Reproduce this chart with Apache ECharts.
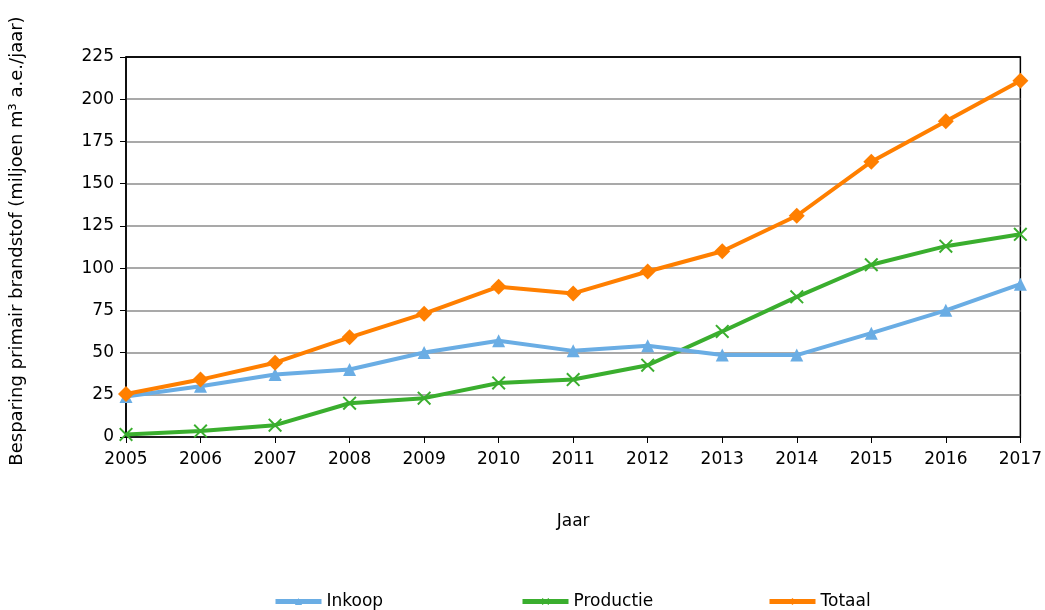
<!DOCTYPE html>
<html>
<head>
<meta charset="utf-8">
<script src="https://cdn.jsdelivr.net/npm/echarts@6/dist/echarts.min.js"></script>
<style>html,body{margin:0;padding:0;background:#fff}#c{width:1045px;height:610px}</style>
</head>
<body>
<div id="c"></div>
<script>
var years = ['2005','2006','2007','2008','2009','2010','2011','2012','2013','2014','2015','2016','2017'];
var inkoop = [24, 30, 37, 40, 50, 57, 51, 54, 48.5, 48.5, 61.5, 75, 90.5];
var productie = [1.5, 3.5, 7, 20, 23, 32, 34, 42.5, 62.5, 83, 102, 113, 120];
var totaal = [25.5, 34, 44, 59, 73, 89, 85, 98, 110, 131, 163, 187, 211];
var yTicks = {min: 0, max: 225, interval: 25};

var FONT = 'DejaVu Sans';
var crossPath = 'path://M0,1 L1,0 L5,4 L9,0 L10,1 L6,5 L10,9 L9,10 L5,6 L1,10 L0,9 L4,5 Z';
var chart = echarts.init(document.getElementById('c'));
var legendBase = {top: 588, itemWidth: 46, itemHeight: 9, itemGap: 4,
  lineStyle: {width: 5},
  textStyle: {fontFamily: FONT, fontSize: 17, color: '#000'}};
var gridColors = ['#8c8c8c','#8c8c8c','#8c8c8c','#8c8c8c','#8c8c8c','#8c8c8c','#8c8c8c','#8c8c8c','#8c8c8c','#000'];
chart.setOption({
  animation: false,
  textStyle: {fontFamily: FONT},
  grid: {left: 125, right: 24, top: 57, bottom: 173, show: true, borderColor: '#000', borderWidth: 1.5, backgroundColor: 'transparent'},
  legend: [
    Object.assign({left: 268, data: ['Inkoop']}, legendBase),
    Object.assign({left: 515, data: ['Productie']}, legendBase),
    Object.assign({left: 762, data: ['Totaal']}, legendBase)
  ],
  xAxis: {
    type: 'category', data: years, boundaryGap: false,
    name: 'Jaar', nameLocation: 'middle', nameGap: 76,
    nameTextStyle: {fontFamily: FONT, fontSize: 17, color: '#000'},
    axisLine: {lineStyle: {color: '#000', width: 1.5}},
    axisTick: {show: true, length: 6, lineStyle: {color: '#000'}},
    axisLabel: {fontFamily: FONT, fontSize: 17, color: '#000', margin: 14, interval: 0},
    splitLine: {show: false}
  },
  yAxis: {
    type: 'value', min: yTicks.min, max: yTicks.max, interval: yTicks.interval,
    name: 'Besparing primair brandstof (miljoen m³ a.e./jaar)', nameLocation: 'middle', nameGap: 100, nameRotate: 90,
    nameTextStyle: {fontFamily: FONT, fontSize: 18, color: '#000', padding: [0, 0, 0, 12]},
    axisLine: {show: true, lineStyle: {color: '#000', width: 1.5}},
    axisTick: {show: true, length: 6, lineStyle: {color: '#000'}},
    axisLabel: {fontFamily: FONT, fontSize: 17, color: '#000', margin: 12},
    splitLine: {show: true, lineStyle: {color: gridColors, width: 1.5}}
  },
  series: [
    {name: 'Inkoop', type: 'line', data: inkoop, symbol: 'triangle', symbolSize: 13,
      lineStyle: {color: '#6aade4', width: 4}, itemStyle: {color: '#6aade4'}, z: 3},
    {name: 'Productie', type: 'line', data: productie, symbol: crossPath, symbolSize: 14,
      lineStyle: {color: '#3aae2e', width: 4}, itemStyle: {color: '#3aae2e'}, z: 2},
    {name: 'Totaal', type: 'line', data: totaal, symbol: 'diamond', symbolSize: 16,
      lineStyle: {color: '#ff7f00', width: 4}, itemStyle: {color: '#ff7f00'}, z: 4}
  ]
});
</script>
</body>
</html>
